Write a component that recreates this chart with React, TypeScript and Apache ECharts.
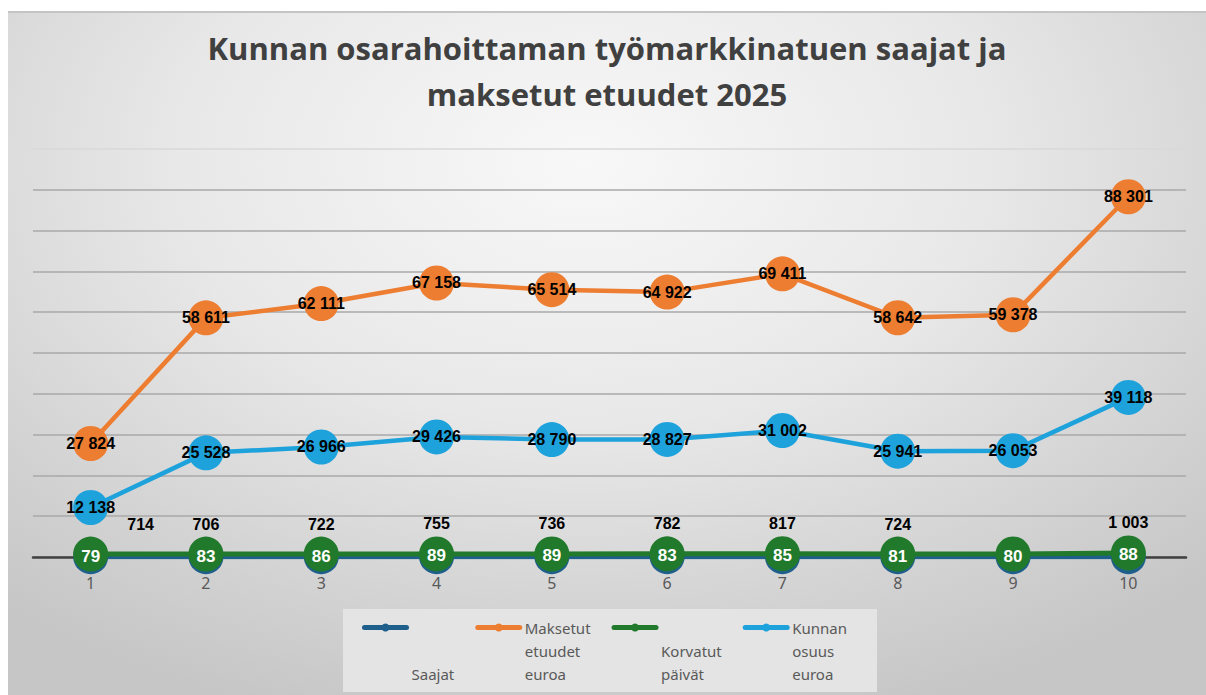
import React, { useEffect, useRef } from "react";
import * as echarts from "echarts";

const categories = ["1", "2", "3", "4", "5", "6", "7", "8", "9", "10"];
const saajat = [79, 83, 86, 89, 89, 83, 85, 81, 80, 88];
const maksetutEtuudet = [27824, 58611, 62111, 67158, 65514, 64922, 69411, 58642, 59378, 88301];
const korvatutPaivat = [714, 706, 722, 755, 736, 782, 817, 724, 730, 1003];
const kunnanOsuus = [12138, 25528, 26966, 29426, 28790, 28827, 31002, 25941, 26053, 39118];
const korvatutLabelShown = [true, true, true, true, true, true, true, true, false, true];

const seriesNames = ["Saajat", "Maksetut etuudet euroa", "Korvatut päivät", "Kunnan osuus euroa"];
const legendLines: Record<string, string> = {
  "Saajat": "\n\n\n\nSaajat",
  "Maksetut etuudet euroa": "\n\nMaksetut\netuudet\neuroa",
  "Korvatut päivät": "\n\n\nKorvatut\npäivät",
  "Kunnan osuus euroa": "\n\nKunnan\nosuus\neuroa",
};

const titleText = "Kunnan osarahoittaman työmarkkinatuen saajat ja\nmaksetut etuudet 2025";

const fmt = (v: number) => String(v).replace(/\B(?=(\d{3})+(?!\d))/g, " ");

export default function App() {
  const ref = useRef<HTMLDivElement>(null);
  useEffect(() => {
    if (!ref.current) return;
    const chart = echarts.init(ref.current, undefined, { renderer: "svg" });
    const valueLabel = {
      show: true,
      position: "inside",
      color: "#000000",
      fontSize: 16,
      fontWeight: "bold",
      fontFamily: "Liberation Sans, Arial, sans-serif",
      formatter: (p: any) => fmt(p.value),
    };
    const gridColors = ["#a8a8a8", "#a8a8a8", "#a8a8a8", "#a8a8a8", "#a8a8a8", "#a8a8a8", "#a8a8a8", "#a8a8a8", "#a8a8a8", "#a8a8a8", "#d8d8d8"];
    chart.setOption({
      animation: false,
      title: {
        text: titleText,
        left: "center",
        top: 12,
        padding: 0,
        textStyle: {
          fontFamily: "Open Sans",
          fontSize: 31,
          fontWeight: "bold",
          color: "#404040",
          lineHeight: 46,
        },
      },
      legend: {
        data: seriesNames,
        left: 354,
        top: 557,
        padding: 0,
        itemGap: 21,
        itemWidth: 42,
        itemHeight: 10,
        formatter: (name: string) => legendLines[name],
        textStyle: { fontFamily: "Noto Sans", fontSize: 15, color: "#595959", lineHeight: 23 },
        lineStyle: { width: 5, cap: "round" },
      },
      graphic: [
        {
          type: "rect",
          left: 335,
          top: 596,
          z: -1,
          shape: { width: 534, height: 83 },
          style: { fill: "#e4e4e4" },
          silent: true,
        },
      ],
      grid: { left: 25, right: 20, top: 136, bottom: 138 },
      xAxis: {
        type: "category",
        data: categories,
        boundaryGap: true,
        axisTick: { show: false },
        axisLine: { lineStyle: { color: "#404040", width: 2.5 } },
        axisLabel: { color: "#595959", fontSize: 16, margin: 18, fontFamily: "Noto Sans" },
        z: 1,
      },
      yAxis: {
        type: "value",
        min: 0,
        max: 100000,
        interval: 10000,
        axisLabel: { show: false },
        axisLine: { show: false },
        axisTick: { show: false },
        splitLine: { lineStyle: { color: gridColors, width: 1.5 } },
      },
      series: [
        {
          name: "Saajat",
          type: "line",
          data: saajat,
          symbol: "circle",
          symbolSize: 35,
          z: 3,
          color: "#1f5f8b",
          lineStyle: { width: 5, color: "#1f5f8b" },
          itemStyle: { color: "#1f5f8b" },
          label: { show: false },
        },
        {
          name: "Maksetut etuudet euroa",
          type: "line",
          data: maksetutEtuudet,
          symbol: "circle",
          symbolSize: 35,
          z: 5,
          color: "#ed7d31",
          lineStyle: { width: 4.5, color: "#ed7d31" },
          itemStyle: { color: "#ed7d31" },
          label: valueLabel,
        },
        {
          name: "Korvatut päivät",
          type: "line",
          data: korvatutPaivat,
          symbol: "circle",
          symbolSize: 35,
          z: 4,
          color: "#217a2b",
          lineStyle: { width: 5, color: "#217a2b" },
          itemStyle: { color: "#217a2b" },
          label: {
            show: true,
            position: "inside",
            offset: [0, -14],
            formatter: (p: any) => {
              const i = p.dataIndex;
              const top = korvatutLabelShown[i] ? fmt(korvatutPaivat[i]) : " ";
              const topStyle = i === 0 ? "topShift" : "top";
              return `{${topStyle}|${top}}\n{inner|${saajat[i]}}`;
            },
            rich: {
              top: { fontSize: 16, fontWeight: "bold", color: "#000000", lineHeight: 32, fontFamily: "Liberation Sans, Arial, sans-serif" },
              topShift: { fontSize: 16, fontWeight: "bold", color: "#000000", lineHeight: 32, padding: [0, 0, 0, 100], fontFamily: "Liberation Sans, Arial, sans-serif" },
              inner: { fontSize: 17, fontWeight: "bold", color: "#ffffff", lineHeight: 32, fontFamily: "Liberation Sans, Arial, sans-serif" },
            },
          },
        },
        {
          name: "Kunnan osuus euroa",
          type: "line",
          data: kunnanOsuus,
          symbol: "circle",
          symbolSize: 35,
          z: 5,
          color: "#1ea2dc",
          lineStyle: { width: 4.5, color: "#1ea2dc" },
          itemStyle: { color: "#1ea2dc" },
          label: valueLabel,
        },
      ],
    });
    return () => chart.dispose();
  }, []);
  return (
    <div
      ref={ref}
      style={{
        position: "absolute",
        left: 8,
        top: 11,
        width: 1198,
        height: 684,
        boxSizing: "border-box",
        borderTop: "2px solid #c4c4c4",
        background: "radial-gradient(ellipse 75% 85% at 48% 22%, #f8f8f8 0%, #e8e8e8 45%, #d2d2d2 80%, #c6c6c6 100%)",
      }}
    />
  );
}
